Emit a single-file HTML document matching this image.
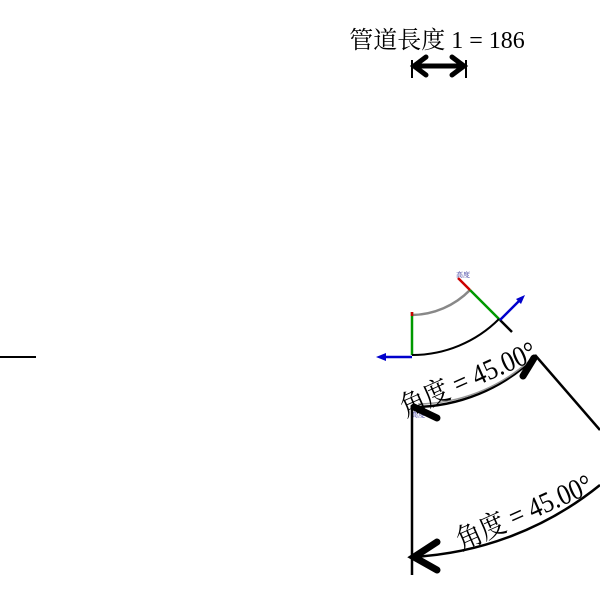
<!DOCTYPE html>
<html><head><meta charset="utf-8"><style>body{margin:0;background:#fff}</style></head><body>
<svg width="600" height="600" xmlns="http://www.w3.org/2000/svg" font-family="Liberation Serif, Noto Serif CJK SC, serif">
<rect width="600" height="600" fill="#fff"/>
<text x="437" y="48" font-size="24" text-anchor="middle">管道長度 1 = 186</text>
<g stroke="#000" stroke-width="2" fill="none">
<line x1="412" y1="60" x2="412" y2="78"/><line x1="466" y1="60" x2="466" y2="78"/>
</g>
<g stroke="#000" stroke-width="5" fill="none" stroke-linecap="round">
<line x1="414" y1="66" x2="464" y2="66"/>
<polyline points="426,57 414,66 426,75"/><polyline points="452,57 464,66 452,75"/>
</g>
<line x1="0" y1="357" x2="36" y2="357" stroke="#000" stroke-width="2"/>
<path d="M412,315 A83,83 0 0 0 470,290" stroke="#888" stroke-width="2.5" fill="none"/>
<line x1="412" y1="312" x2="412" y2="355" stroke="#090" stroke-width="2.5"/>
<line x1="412" y1="312" x2="412" y2="316" stroke="#c00" stroke-width="2.5"/>
<line x1="470" y1="290" x2="500" y2="320" stroke="#090" stroke-width="2.5"/>
<line x1="458" y1="278" x2="470" y2="290" stroke="#c00" stroke-width="2.5"/>
<line x1="500" y1="320" x2="512" y2="332" stroke="#000" stroke-width="2.5"/>
<path d="M412,355 A123,123 0 0 0 499,319" stroke="#000" stroke-width="2" fill="none"/>
<g stroke="#00c" stroke-width="2.5"><line x1="412" y1="357" x2="382" y2="357"/><line x1="500" y1="320" x2="522" y2="298"/></g>
<polygon points="376,357 386,353 386,361" fill="#00c"/><polygon points="525,295 516,299 521,304" fill="#00c"/>
<text x="456" y="277" font-size="7" fill="#339">高度</text>
<text x="411" y="417" font-size="7" fill="#339">高度</text>
<line x1="412" y1="405" x2="412" y2="575" stroke="#000" stroke-width="2.5"/>
<line x1="535" y1="355" x2="600" y2="430" stroke="#000" stroke-width="2.5"/>
<path d="M412,407 A175,175 0 0 0 536,356" stroke="#000" stroke-width="2.5" fill="none"/>
<path d="M418,404 A170,170 0 0 0 528,362" stroke="#999" stroke-width="1.5" fill="none"/>
<path d="M412,557 A325,325 0 0 0 600,485" stroke="#000" stroke-width="2.5" fill="none"/>
<g stroke="#000" stroke-width="7" stroke-linecap="round" fill="none">
<polyline points="437,418 414,407"/><polyline points="523,376 534,358"/>
<polyline points="437,542 414,557 437,570"/>
</g>
<text transform="translate(472,388) rotate(-24) scale(0.88,1)" font-size="29" text-anchor="middle">角度 = 45.00°</text>
<text transform="translate(528,521) rotate(-24) scale(0.88,1)" font-size="29" text-anchor="middle">角度 = 45.00°</text>
</svg>
</body></html>
